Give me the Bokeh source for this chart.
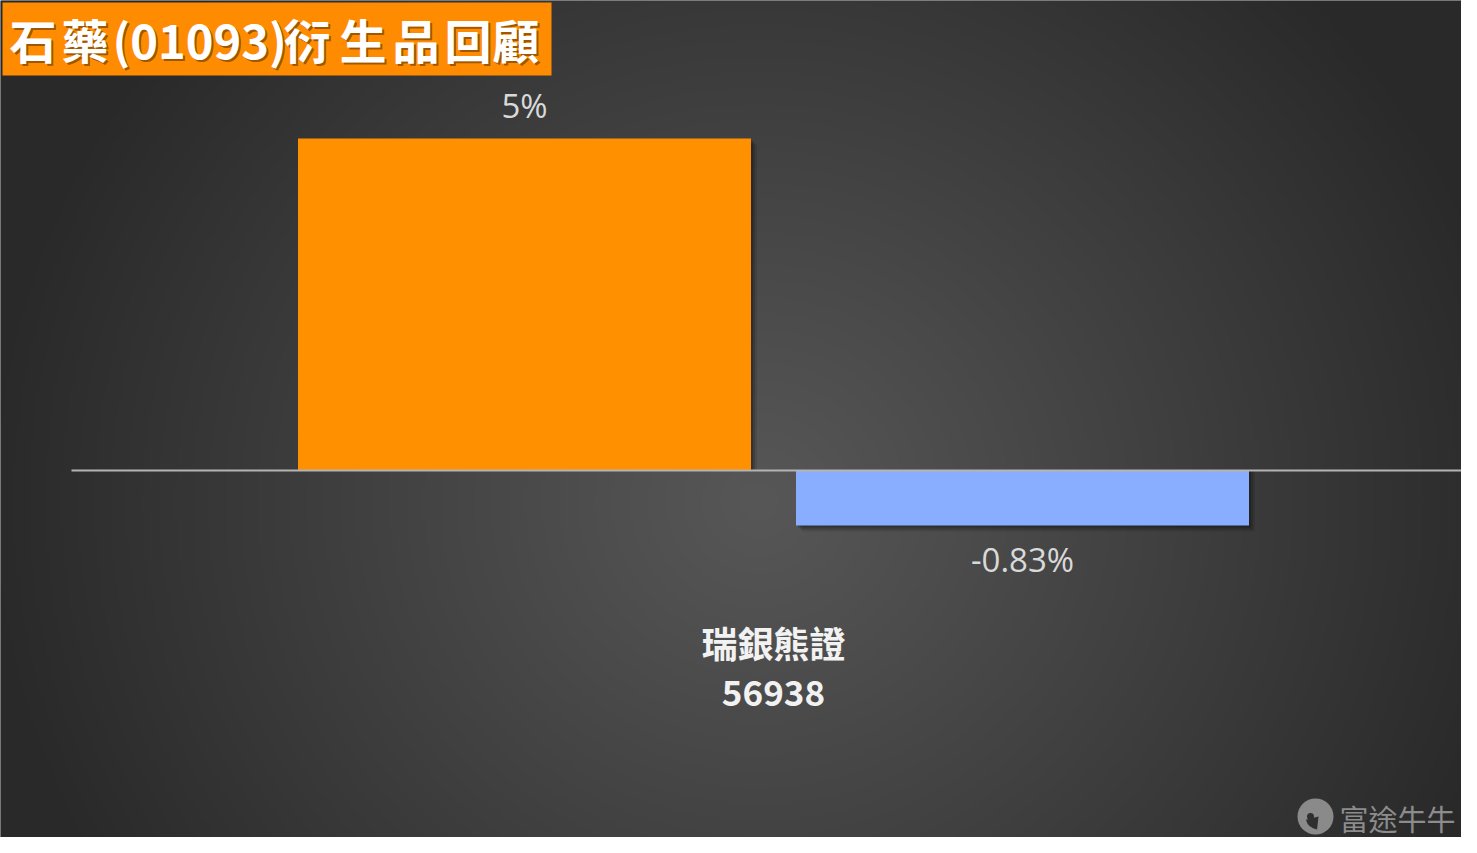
import numpy as np
from bokeh.plotting import figure
from bokeh.models import Range1d, ColumnDataSource
from bokeh.core.properties import value
from bokeh.embed import file_html
from bokeh.resources import INLINE

# ---------------- data ----------------
title_parts = ["石", "藥", "(01093)", "衍", "生", "品", "回", "顧"]
categories = ["瑞銀熊證\n56938"]
series_values = [5.0, -0.83]
value_labels = ["5%", "-0.83%"]
series_colors = ["#FF9100", "#8AAEFF"]
watermark = "富途牛牛"

# ---------------- layout ----------------
W, H = 1461, 837
PX_X = 498.0     # pixels per category-offset unit
PX_Y = 66.4      # pixels per percent
CX = 773.0       # canvas x of group center
CY = 470.0       # canvas y of zero line

x_start, x_end = -CX / PX_X, (W - CX) / PX_X
y_end, y_start = CY / PX_Y, -(H - CY) / PX_Y


def dx(px):
    return (px - CX) / PX_X


def dy(py):
    return (CY - py) / PX_Y


p = figure(width=W, height=H, output_backend="svg", toolbar_location=None,
           x_range=Range1d(x_start, x_end), y_range=Range1d(y_start, y_end),
           min_border=0, min_border_left=0, min_border_right=0,
           min_border_top=0, min_border_bottom=0)
p.axis.visible = False
p.grid.visible = False
p.outline_line_color = None
p.background_fill_color = "#2a2a2a"
p.border_fill_color = "#2a2a2a"

# ---------------- radial gradient background ----------------
step = 3
nx, ny = W // step + 1, H // step + 1
xs = (np.arange(nx) + 0.5) * step
ys = H - (np.arange(ny) + 0.5) * step
XX, YY = np.meshgrid(xs, ys)
gcx, gcy = 760.0, 500.0
d = np.sqrt((XX - gcx) ** 2 + ((YY - gcy) * 1.05) ** 2)
t = np.clip(d / 780.0, 0, 1) ** 1.05
g = (0x57 - (0x57 - 0x29) * t).astype(np.uint8)
img = np.zeros((ny, nx), dtype=np.uint32)
view = img.view(dtype=np.uint8).reshape((ny, nx, 4))
view[:, :, 0] = g
view[:, :, 1] = g
view[:, :, 2] = g
view[:, :, 3] = 255
p.image_rgba(image=[img], x=x_start, y=y_start, dw=x_end - x_start, dh=y_end - y_start)

# ---------------- bars ----------------
offsets = [-0.5, 0.5]
bar_w = 453.0 / PX_X
src = ColumnDataSource(dict(x=offsets, top=series_values, color=series_colors,
                            label=value_labels))
# soft shadow
for k, a in [(6, 0.10), (4, 0.15), (2, 0.2)]:
    p.vbar(x=[o + k / PX_X for o in offsets], width=bar_w,
           top=[v - k / PX_Y if v > 0 else 0 for v in series_values],
           bottom=[0 if v > 0 else v - k / PX_Y for v in series_values],
           fill_color="black", fill_alpha=a, line_color=None)

p.vbar(x="x", top="top", bottom=0, width=bar_w, source=src,
       fill_color="color", line_color=None)

# zero line
p.segment(x0=[dx(71)], y0=[0], x1=[x_end], y1=[0], line_color="#b4b4b4", line_width=2)

# value labels
pos = [i for i, v in enumerate(series_values) if v >= 0]
neg = [i for i, v in enumerate(series_values) if v < 0]
p.text(x=[offsets[i] for i in pos], y=[series_values[i] for i in pos],
       text=[value_labels[i] for i in pos], text_align="center",
       text_baseline="bottom", y_offset=-11, text_color="#d9d9d9",
       text_font=value("Open Sans"), text_font_size="33px")
p.text(x=[offsets[i] for i in neg], y=[series_values[i] for i in neg],
       text=[value_labels[i] for i in neg], text_align="center",
       text_baseline="top", y_offset=11, text_color="#d9d9d9",
       text_font=value("Open Sans"), text_font_size="33px")

# category labels (two lines)
cat_lines = categories[0].split("\n")
p.text(x=[0], y=[dy(641)], text=[cat_lines[0]], text_align="center",
       text_baseline="middle", text_color="#f2f2f2",
       text_font=value("Noto Sans CJK TC"), text_font_style="bold",
       text_font_size="36px")
p.text(x=[0], y=[dy(692)], text=[cat_lines[1]], text_align="center",
       text_baseline="middle", text_color="#f2f2f2",
       text_font=value("Noto Sans CJK TC"), text_font_style="bold",
       text_font_size="35px")

# ---------------- title box ----------------
p.quad(left=[dx(2)], right=[dx(551)], top=[dy(2)], bottom=[dy(75)],
       fill_color="#FF8C00", line_color=None)
title_x = [9, 61, 112, 283, 339, 392, 444, 492]
p.text(x=[dx(v + 2) for v in title_x], y=[dy(40)] * len(title_parts), text=title_parts,
       text_align="left", text_baseline="middle", text_color="black", text_alpha=0.4,
       text_font=value("Noto Sans CJK TC"), text_font_style="bold",
       text_font_size="47px")
p.text(x=[dx(v) for v in title_x], y=[dy(38)] * len(title_parts), text=title_parts,
       text_align="left", text_baseline="middle", text_color="white",
       text_font=value("Noto Sans CJK TC"), text_font_style="bold",
       text_font_size="47px")

# ---------------- watermark ----------------
p.scatter(x=[dx(1315)], y=[dy(816)], size=36, marker="circle",
          fill_color="#8a8a8a", line_color=None)
p.scatter(x=[dx(1310)], y=[dy(816)], size=7, marker="circle",
          fill_color="#2f2f2f", line_color=None)
p.wedge(x=[dx(1318)], y=[dy(816)], radius=13 / PX_X, start_angle=3.4, end_angle=4.6,
        fill_color="#2f2f2f", line_color=None)
p.text(x=[dx(1339)], y=[dy(817)], text=[watermark], text_align="left",
       text_baseline="middle", text_color="#8c8c8c",
       text_font=value("Noto Sans CJK TC"), text_font_size="29px")

open("out.html", "w").write(file_html(p, INLINE))
